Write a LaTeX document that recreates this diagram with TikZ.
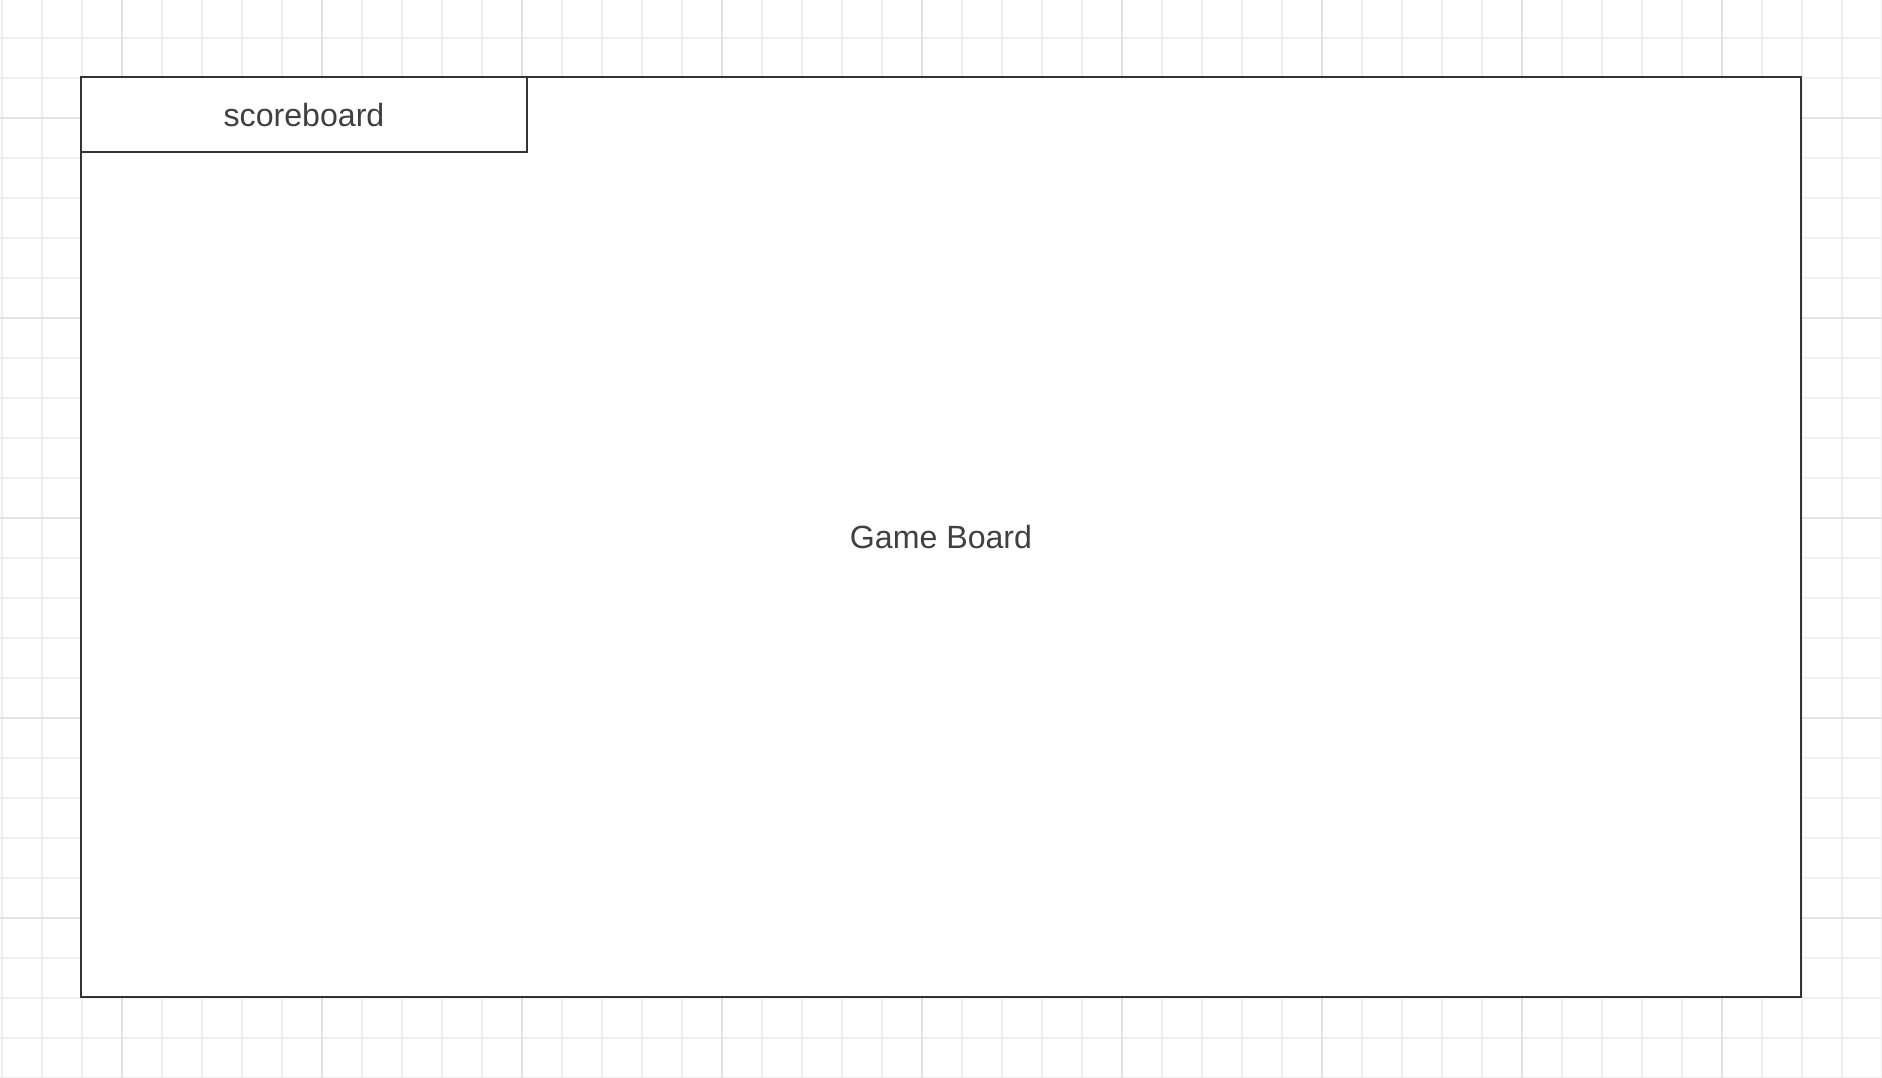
\documentclass[tikz,border=0pt]{standalone}
\usepackage{fontspec}
\setmainfont{Liberation Sans}
\definecolor{minorgrid}{HTML}{EFEFEF}
\definecolor{majorgrid}{HTML}{E2E2E2}
\definecolor{edge}{HTML}{333333}
\definecolor{txt}{HTML}{404040}
\begin{document}
\begin{tikzpicture}[x=0.75pt,y=-0.75pt,
  minorline/.style={draw=minorgrid,line width=0.9pt},
  majorline/.style={draw=majorgrid,line width=0.9pt},
  panel/.style={draw=edge,fill=white,line width=1.1pt,inner sep=0pt,outer sep=0pt},
  label/.style={text=txt,font=\fontsize{24.1pt}{29pt}\selectfont}]
\useasboundingbox[fill=white] (0,0) rectangle (1882,1078);
\foreach \i in {0,...,47} {\draw[minorline] ({2+40*\i},0) -- ({2+40*\i},1078);}
\foreach \j in {0,...,27} {\draw[minorline] (0,{-2+40*\j}) -- (1882,{-2+40*\j});}
\foreach \i in {0,...,8} {\draw[majorline] ({122+200*\i},0) -- ({122+200*\i},1078);}
\foreach \j in {0,...,4} {\draw[majorline] (0,{118+200*\j}) -- (1882,{118+200*\j});}
\draw[panel] (81,77) rectangle (1801,997);
\node[label] (board) at (941,537) {Game Board};
\draw[panel] (81,77) rectangle (527,152);
\node[label] (score) at (304,115.5) {scoreboard};
\end{tikzpicture}
\end{document}
